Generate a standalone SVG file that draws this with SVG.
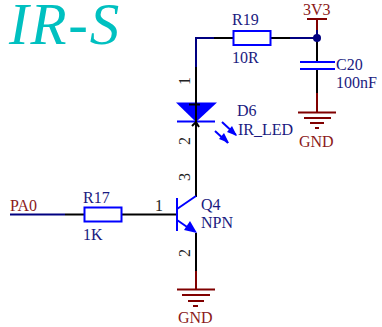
<svg xmlns="http://www.w3.org/2000/svg" width="382" height="327" viewBox="0 0 382 327">
<style>
text{font-family:"Liberation Serif","Times New Roman",serif;font-size:16px}
.n{fill:#1a1a80}.r{fill:#8b1a1a}.k{fill:#222}
.w,.b,.p,.g,.s{fill:none;stroke-width:2}
.w{stroke:#000080}.b{stroke:#000}.g{stroke:#800000}.s{stroke:#0000ff}
</style>
<rect width="382" height="327" fill="#fff"/>
<text id="title" x="9" y="44" style="font-size:59px;font-style:italic;letter-spacing:1.800px;fill:#00c0c0">IR-S</text>
<g id="connectors">
<path class="w" d="M214 38H196V67"/>
<path class="b" d="M214 38H233M196 67V104M196 122V197"/>
<path class="b" d="M270 38H290"/>
<path class="w" d="M290 38H317"/>
<path class="b" d="M317 38V62M317 69V93"/>
<path class="g" d="M317 30V19"/>
<path class="w" d="M317 30V38"/>
<path class="g" d="M317 93V112"/>
<path class="w" d="M10 214.500H65"/>
<path class="b" d="M65 214.500H84M122 214.500H177"/>
<path class="b" d="M196 233V271"/>
<path class="g" d="M196 271V289"/>
</g>
<g id="J1"><circle cx="317" cy="38" r="4" fill="#000080"/></g>
<g id="R19">
<rect class="s" x="233.500" y="31" width="37" height="14"/>
<text class="n" x="232" y="25">R19</text>
<text class="n" x="232" y="63">10R</text>
</g>
<g id="VCC">
<path class="g" d="M307 19H327"/>
<text class="r" x="303" y="15">3V3</text>
</g>
<g id="C20">
<path class="s" d="M300 62H335M300 69H335"/>
<text class="n" x="336" y="70">C20</text>
<text class="n" x="336" y="88">100nF</text>
</g>
<g id="GND1">
<path class="g" d="M298 112.500H336M304 118H331M310 123H324M315 128H319"/>
<text class="r" x="299" y="147">GND</text>
</g>
<g id="D6">
<path d="M176 102.500H217L196 122Z" fill="#0000ff"/>
<path class="s" d="M177 121.500H215"/>
<path class="b" d="M189 104.500H200M196 99V122M192 126L196 122L199 127"/>
<path class="s" d="M222 122L236 135M215 131L228 143"/>
<path d="M237 136L227 132L232 126Z M229 143L219 139L224 133Z" fill="#0000ff"/>
<text class="n" x="237" y="116">D6</text>
<text class="n" x="238" y="135">IR_LED</text>
<text class="k" transform="translate(190 85) rotate(-90)">1</text>
<text class="k" transform="translate(190 145) rotate(-90)">2</text>
</g>
<g id="R17">
<rect class="s" x="84.500" y="207.500" width="37" height="14"/>
<text class="n" x="83" y="203">R17</text>
<text class="n" x="83" y="240">1K</text>
</g>
<g id="PA0"><text class="r" x="10" y="211">PA0</text></g>
<g id="Q4">
<path class="s" d="M177 198V231M177 209L196 196M177 220L190 229"/>
<path d="M197 233L184 230L190 221Z" fill="#0000ff"/>
<text class="k" x="155" y="211">1</text>
<text class="k" transform="translate(190 181) rotate(-90)">3</text>
<text class="k" transform="translate(190 257) rotate(-90)">2</text>
<text class="n" x="201" y="210">Q4</text>
<text class="n" x="201" y="228">NPN</text>
</g>
<g id="GND2">
<path class="g" d="M177 289.500H215M182 295H210M188 301H204M193 306H198"/>
<text class="r" x="178" y="323">GND</text>
</g>
</svg>
